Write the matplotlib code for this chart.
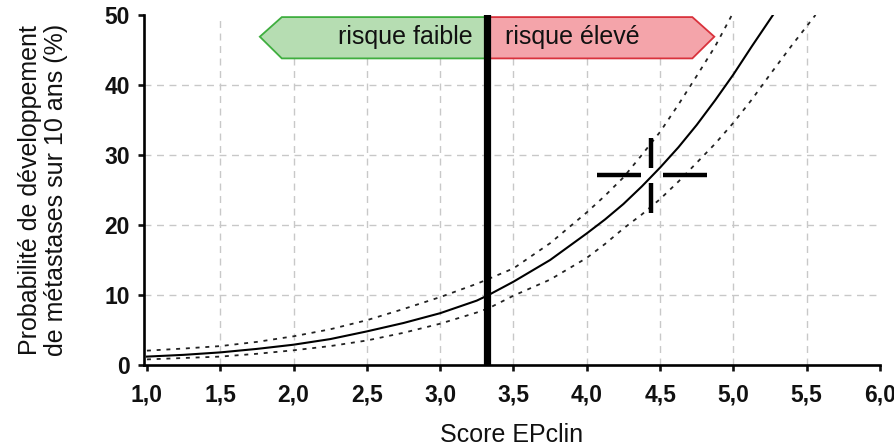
import numpy as np
import matplotlib
matplotlib.use("Agg")
import matplotlib.pyplot as plt
from matplotlib.patches import Polygon

plt.rcParams['font.family'] = ['Liberation Sans', 'DejaVu Sans']

# values
score = [1.0, 1.25, 1.5, 1.75, 2.0, 2.25, 2.5, 2.75, 3.0, 3.25, 3.33, 3.5, 3.75, 4.0,
         4.125, 4.25, 4.375, 4.5, 4.625, 4.75, 4.875, 5.0, 5.125, 5.27]
prob = [1.2, 1.45, 1.8, 2.3, 2.9, 3.7, 4.8, 6.0, 7.4, 9.2, 10.0, 11.9, 15.0, 18.8,
        20.8, 23.0, 25.5, 28.2, 31.1, 34.3, 37.8, 41.5, 45.5, 50.0]

score_hi = [1.0, 1.25, 1.5, 1.75, 2.0, 2.25, 2.5, 2.75, 3.0, 3.25, 3.33, 3.5, 3.75, 4.0,
            4.125, 4.25, 4.375, 4.5, 4.625, 4.75, 4.875, 4.99]
prob_hi = [2.05, 2.35, 2.7, 3.3, 4.1, 5.1, 6.4, 8.0, 9.7, 11.6, 12.3, 13.8, 17.4, 21.8,
           24.2, 26.8, 30.0, 33.3, 37.2, 41.3, 45.5, 50.0]

score_lo = [1.0, 1.25, 1.5, 1.75, 2.0, 2.25, 2.5, 2.75, 3.0, 3.25, 3.33, 3.5, 3.75, 4.0,
            4.125, 4.25, 4.375, 4.5, 4.625, 4.75, 4.875, 5.0, 5.125, 5.25, 5.4, 5.56]
prob_lo = [0.8, 1.0, 1.2, 1.6, 2.1, 2.7, 3.5, 4.6, 5.9, 7.5, 8.1, 9.9, 12.2, 15.3,
           17.3, 19.5, 21.5, 23.7, 26.2, 28.9, 31.6, 34.6, 37.9, 41.5, 45.7, 50.0]

seuil = 3.32
patient = (4.44, 27.1)

xticks = [1.0, 1.5, 2.0, 2.5, 3.0, 3.5, 4.0, 4.5, 5.0, 5.5, 6.0]
yticks = [0, 10, 20, 30, 40, 50]

fig = plt.figure(figsize=(8.94, 4.48), dpi=100)
ax = fig.add_axes([144 / 894, 83 / 448, 736 / 894, 350 / 448])
ax.set_xlim(0.98, 6.0)
ax.set_ylim(0, 50)

# inner grid only
for x in xticks[1:-1]:
    ax.axvline(x, color='#c8c8c8', lw=1, ls=(0, (5, 4)), zorder=0)
for y in yticks[1:-1]:
    ax.axhline(y, color='#c8c8c8', lw=1, ls=(0, (5, 4)), zorder=0)

# risk arrows
green = Polygon([(1.77, 46.9), (1.92, 49.7), (seuil, 49.7), (seuil, 43.8), (1.92, 43.8)],
                closed=True, facecolor='#b6ddb2', edgecolor='#3fae3f', lw=1.3, zorder=2, clip_on=False)
red = Polygon([(seuil, 49.7), (4.72, 49.7), (4.87, 46.9), (4.72, 43.8), (seuil, 43.8)],
              closed=True, facecolor='#f4a4aa', edgecolor='#d9323c', lw=1.3, zorder=2, clip_on=False)
ax.add_patch(green)
ax.add_patch(red)
ax.text(3.22, 46.9, 'risque faible', ha='right', va='center', fontsize=18, color='#111111', zorder=3)
ax.text(3.44, 46.9, 'risque élevé', ha='left', va='center', fontsize=18, color='#111111', zorder=3)

# curves
ax.plot(score, prob, color='black', lw=1.5, zorder=4)
ax.plot(score_hi, prob_hi, color='#222222', lw=1.3, ls=(0, (2.2, 3.2)), zorder=4)
ax.plot(score_lo, prob_lo, color='#222222', lw=1.3, ls=(0, (2.2, 3.2)), zorder=4)

# threshold
ax.axvline(seuil, color='black', lw=5.2, zorder=5)

# patient crosshair
px, py = patient
ax.plot([px - 0.37, px - 0.07], [py, py], color='black', lw=3.2, solid_capstyle='butt', zorder=6)
ax.plot([px + 0.08, px + 0.38], [py, py], color='black', lw=3.2, solid_capstyle='butt', zorder=6)
ax.plot([px, px], [py + 1.0, py + 5.3], color='black', lw=3.2, solid_capstyle='butt', zorder=6)
ax.plot([px, px], [py - 1.1, py - 5.4], color='black', lw=3.2, solid_capstyle='butt', zorder=6)

for side in ['top', 'right']:
    ax.spines[side].set_visible(False)
for side in ['left', 'bottom']:
    ax.spines[side].set_linewidth(1.9)

ax.set_xticks(xticks)
ax.set_xticklabels([f"{x:.1f}".replace('.', ',') for x in xticks])
ax.set_yticks(yticks)
ax.set_yticklabels([str(y) for y in yticks])
ax.tick_params(direction='out', length=4, width=1.9, labelsize=16.5, colors='#111111')
ax.tick_params(axis='x', pad=9)
ax.tick_params(axis='y', pad=6)
for lab in ax.get_xticklabels() + ax.get_yticklabels():
    lab.set_fontweight('bold')

ax.set_xlabel('Score EPclin', fontsize=18, labelpad=12, color='#111111')
ax.set_ylabel('Probabilité de développement\nde métastases sur 10 ans (%)', fontsize=18,
              labelpad=26, color='#111111', linespacing=1.15)

fig.savefig('out.png', dpi=100)
